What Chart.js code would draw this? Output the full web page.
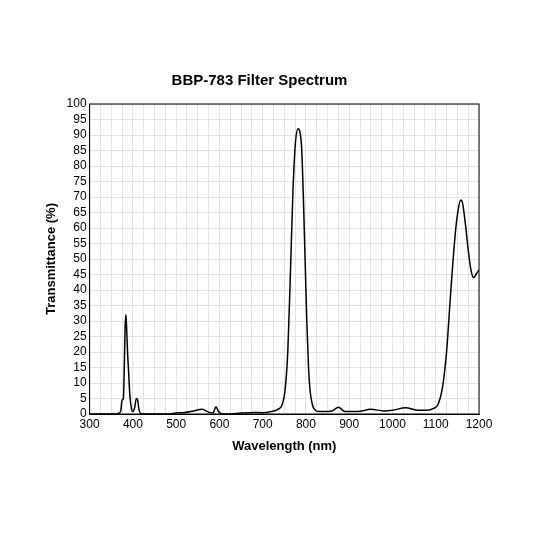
<!DOCTYPE html><html><head><script src="https://cdn.jsdelivr.net/npm/chart.js@4"></script>
<style>html,body{margin:0;background:#fff}#w{width:533px;height:533px}</style></head><body><div id="w"><canvas id="c"></canvas></div>
<script>
const wavelength=[300,360,368,372,375,378,380,382,384,386,388,390,393,397,400,404,408,411,414,418,425,440,480,500,520,540,560,575,585,592,598,605,620,650,680,700,720,735,745,752,758,764,770,776,782,786,790,794,798,802,806,810,815,820,828,840,860,875,890,920,950,980,1000,1030,1060,1080,1095,1105,1115,1125,1135,1145,1152,1158,1162,1168,1175,1182,1188,1193,1200];
const transmittance=[0,0,0.3,1,4.5,5,14,28,32,26,19,14,6,1.5,0.8,2,5,4.5,1.5,0.2,0,0,0,0.3,0.5,1,1.5,0.6,0.3,2.3,0.8,0.1,0,0.3,0.5,0.4,0.8,1.5,3,8,20,45,72,88,92,91,86,70,50,30,15,7,3,1.5,0.8,0.8,1,2.2,0.8,0.8,1.5,1,1.2,2,1.2,1.2,1.8,3,8,20,40,58,66,69,68,62,53,46,44,45,46.5];
const pts=wavelength.map((x,i)=>({x,y:transmittance[i]}));
const frame={id:'frame',afterDraw(c){const a=c.chartArea,g=c.ctx;g.save();g.strokeStyle='#000';g.lineWidth=1;g.strokeRect(a.left,a.top,a.right-a.left,a.bottom-a.top);g.restore();}};
new Chart(document.getElementById('c'),{type:'line',data:{datasets:[{data:pts,borderColor:'#000',borderWidth:1.5,pointRadius:0,cubicInterpolationMode:'monotone'}]},plugins:[frame],
options:{responsive:true,maintainAspectRatio:false,animation:false,layout:{padding:{left:40,right:54,top:72,bottom:75}},
plugins:{legend:{display:false},title:{display:true,text:'BBP-783 Filter Spectrum',font:{family:'Liberation Sans',size:15,weight:'bold'},color:'#000',padding:{bottom:14}}},
scales:{x:{type:'linear',min:300,max:1200,ticks:{stepSize:25,autoSkip:false,maxRotation:0,color:'#000',font:{family:'Liberation Sans',size:12},callback:v=>v%100===0?v:''},grid:{color:'#e3e3e3',drawTicks:false},border:{color:'#000'},title:{display:true,text:'Wavelength (nm)',font:{family:'Liberation Sans',size:13,weight:'bold'},color:'#000'}},
y:{min:0,max:100,ticks:{stepSize:5,autoSkip:false,color:'#000',font:{family:'Liberation Sans',size:12}},grid:{color:'#e3e3e3',drawTicks:false},border:{color:'#000'},title:{display:true,text:'Transmittance (%)',font:{family:'Liberation Sans',size:13,weight:'bold'},color:'#000'}}}}});
</script></body></html>
